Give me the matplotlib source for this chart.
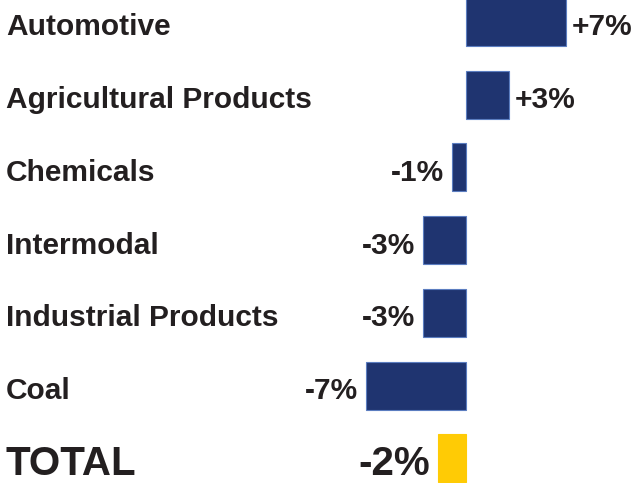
# freight volume change by segment, horizontal bars
import numpy as np
import matplotlib.pyplot as plt

segments = ['Automotive', 'Agricultural Products', 'Chemicals', 'Intermodal',
            'Industrial Products', 'Coal', 'TOTAL']
change = [7, 3, -1, -3, -3, -7, -2]
value_labels = ['+7%', '+3%', '-1%', '-3%', '-3%', '-7%', '-2%']

navy = '#1f3470'
gold = '#ffcb05'
ink = '#231f20'

fig = plt.figure(figsize=(6.35, 4.83), dpi=100)
ax = fig.add_axes([0, 0, 1, 1])

y = np.arange(len(segments))
colors = [navy] * (len(segments) - 1) + [gold]
edges = ['#5b7dc0'] * (len(segments) - 1) + [gold]
ax.barh(y, change, height=0.66, color=colors, edgecolor=edges, linewidth=0.8)

ax.set_xlim(-32.6, 11.8)
ax.set_ylim(6.34, -0.30)
ax.axis('off')

# text sits a touch below the bar centre
dy = 0.075
for i, (name, v, lab) in enumerate(zip(segments, change, value_labels)):
    big = name == 'TOTAL'
    fs = 29 if big else 21.5
    ax.text(6 / 635, i + dy, name, transform=ax.get_yaxis_transform(),
            ha='left', va='center', fontsize=fs, fontweight='bold',
            family='Liberation Sans', color=ink)
    if v > 0:
        ax.text(v + 0.38, i + dy, lab, ha='left', va='center', fontsize=fs,
                fontweight='bold', family='Liberation Sans', color=ink)
    else:
        ax.text(v - 0.55, i + dy, lab, ha='right', va='center', fontsize=fs,
                fontweight='bold', family='Liberation Sans', color=ink)

fig.savefig('out.png', dpi=100)
